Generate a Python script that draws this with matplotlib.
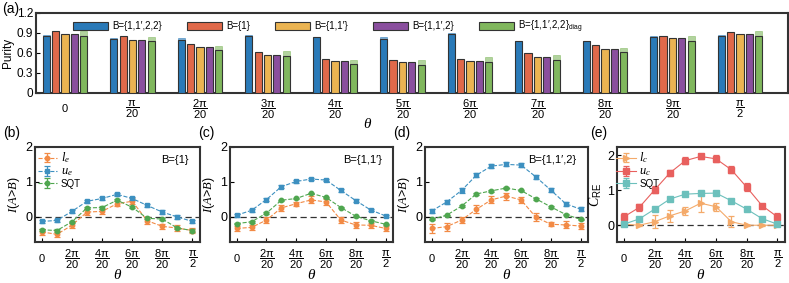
import matplotlib
matplotlib.use("Agg")
import matplotlib.pyplot as plt
import numpy as np

plt.rcParams["font.family"] = ["Liberation Sans", "DejaVu Sans"]
plt.rcParams["mathtext.fontset"] = "custom"
plt.rcParams["mathtext.rm"] = "Liberation Sans"
plt.rcParams["mathtext.sf"] = "Liberation Sans"
plt.rcParams["mathtext.it"] = "Liberation Serif:italic"
plt.rcParams["axes.edgecolor"] = "#333333"

# ---- panel (a): purity bars ----
bar_labels = ["B={1,1′,2,2}", "B={1}", "B={1,1′}", "B={1,1′,2}",
              "B={1,1′,2,2}$_{\\rm diag}$"]
bar_colors = ["#2a7ab8", "#e0694a", "#ebb452", "#8a4f9e", "#80b75d"]
theta_labels_a = ["0", r"$\dfrac{\mathrm{\pi}}{20}$", r"$\dfrac{2\mathrm{\pi}}{20}$",
                  r"$\dfrac{3\mathrm{\pi}}{20}$", r"$\dfrac{4\mathrm{\pi}}{20}$",
                  r"$\dfrac{5\mathrm{\pi}}{20}$", r"$\dfrac{6\mathrm{\pi}}{20}$",
                  r"$\dfrac{7\mathrm{\pi}}{20}$", r"$\dfrac{8\mathrm{\pi}}{20}$",
                  r"$\dfrac{9\mathrm{\pi}}{20}$", r"$\dfrac{\mathrm{\pi}}{2}$"]
pur_full = [0.86, 0.815, 0.795, 0.85, 0.835, 0.81, 0.89, 0.78, 0.78, 0.835, 0.86]
pur_full_th = [0.87, 0.82, 0.825, 0.875, 0.84, 0.84, 0.895, 0.785, 0.785, 0.86, 0.865]
pur_1 = [0.925, 0.85, 0.74, 0.61, 0.515, 0.50, 0.51, 0.60, 0.725, 0.86, 0.92]
pur_11 = [0.89, 0.80, 0.685, 0.575, 0.475, 0.46, 0.485, 0.54, 0.665, 0.82, 0.89]
pur_112 = [0.89, 0.80, 0.685, 0.575, 0.475, 0.46, 0.485, 0.54, 0.665, 0.82, 0.89]
pur_diag = [0.86, 0.775, 0.65, 0.55, 0.44, 0.425, 0.46, 0.50, 0.62, 0.785, 0.86]
pur_diag_th = [0.925, 0.835, 0.71, 0.625, 0.50, 0.50, 0.535, 0.575, 0.675, 0.86, 0.935]

# ---- panels (b)-(d): coherent information ----
k = np.arange(11)
b_le = [-0.44, -0.51, -0.25, 0.13, 0.15, 0.37, 0.44, -0.12, -0.28, -0.33, -0.40]
b_le_err = [0.08, 0.09, 0.09, 0.08, 0.08, 0.08, 0.08, 0.1, 0.08, 0.08, 0.06]
b_ue = [-0.14, -0.11, 0.15, 0.44, 0.52, 0.64, 0.52, 0.32, 0.13, -0.01, -0.14]
b_ue_err = [0.05] * 11
b_sqt = [-0.38, -0.40, -0.15, 0.25, 0.26, 0.47, 0.27, -0.05, -0.07, -0.33, -0.40]
b_sqt_err = [0.03] * 11

c_le = [-0.34, -0.31, -0.10, 0.25, 0.37, 0.48, 0.42, -0.10, -0.24, -0.25, -0.34]
c_le_err = [0.07, 0.08, 0.08, 0.08, 0.06, 0.1, 0.08, 0.08, 0.08, 0.07, 0.07]
c_ue = [0.04, 0.18, 0.49, 0.86, 1.01, 1.08, 1.05, 0.75, 0.46, 0.19, 0.02]
c_ue_err = [0.04] * 11
c_sqt = [-0.20, -0.15, 0.10, 0.47, 0.52, 0.67, 0.55, 0.26, 0.01, -0.12, -0.22]
c_sqt_err = [0.02] * 11

d_le = [-0.34, -0.29, -0.10, 0.21, 0.48, 0.59, 0.48, -0.02, -0.22, -0.24, -0.27]
d_le_err = [0.12, 0.12, 0.08, 0.12, 0.1, 0.1, 0.08, 0.12, 0.06, 0.1, 0.1]
d_ue = [0.16, 0.42, 0.75, 1.19, 1.45, 1.50, 1.48, 1.14, 0.76, 0.37, 0.21]
d_ue_err = [0.06] * 11
d_sqt = [-0.08, 0.04, 0.30, 0.65, 0.74, 0.82, 0.75, 0.51, 0.28, 0.06, -0.08]
d_sqt_err = [0.02] * 11

# ---- panel (e): C_RE ----
e_lc = [0.03, 0.0, 0.10, 0.27, 0.41, 0.63, 0.53, 0.10, 0.0, 0.0, 0.0]
e_lc_err = [0.02, 0.02, 0.18, 0.18, 0.12, 0.25, 0.12, 0.15, 0.02, 0.02, 0.02]
e_uc = [0.24, 0.51, 1.01, 1.50, 1.85, 1.97, 1.90, 1.59, 1.09, 0.56, 0.24]
e_uc_err = [0.12, 0.1, 0.1, 0.08, 0.1, 0.06, 0.1, 0.1, 0.12, 0.06, 0.1]
e_sqt = [0.03, 0.18, 0.46, 0.75, 0.89, 0.91, 0.92, 0.70, 0.46, 0.19, 0.03]
e_sqt_err = [0.02] * 11

bottom_ticks = [0, 2, 4, 6, 8, 10]
bottom_ticklabels = ["0", r"$\dfrac{2\mathrm{\pi}}{20}$", r"$\dfrac{4\mathrm{\pi}}{20}$",
                     r"$\dfrac{6\mathrm{\pi}}{20}$", r"$\dfrac{8\mathrm{\pi}}{20}$",
                     r"$\dfrac{\mathrm{\pi}}{2}$"]

fig = plt.figure(figsize=(7.89, 2.83), dpi=100)

# ---------------- (a) ----------------
ax = fig.add_axes([0.0456, 0.6714, 0.953, 0.283])
series = [pur_full, pur_1, pur_11, pur_112, pur_diag]
theory = {0: pur_full_th, 4: pur_diag_th}
w, step = 0.105, 0.14
for j, (vals, col) in enumerate(zip(series, bar_colors)):
    x = k + (j - 2) * step
    if j in theory:
        ax.bar(x, theory[j], w, color=col, alpha=0.6, edgecolor=col,
               linewidth=0.6, zorder=2)
    ax.bar(x, vals, w, color=col, edgecolor="#333333", linewidth=0.8,
           label=bar_labels[j], zorder=3)
ax.set_xlim(-0.43, 10.71)
ax.set_ylim(0, 1.2)
ax.set_yticks([0, 0.3, 0.6, 0.9, 1.2])
ax.set_yticklabels(["0", "0.3", "0.6", "0.9", "1.2"])
ax.set_xticks(k)
ax.set_xticklabels(theta_labels_a)
ax.tick_params(axis="x", length=0, pad=11.5, labelsize=8)
ax.tick_params(axis="y", direction="in", length=3, labelsize=8.5, pad=2)
for lbl in ax.get_xticklabels():
    lbl.set_va("center")
for s in ax.spines.values():
    s.set_linewidth(1.5)
ax.set_ylabel("Purity", fontsize=8.5, labelpad=2)
ax.legend(loc="upper left", bbox_to_anchor=(0.038, 1.04), ncol=5, frameon=False,
          fontsize=7, handlelength=3.6, handleheight=0.9, columnspacing=2.6,
          handletextpad=0.4)
fig.text(368 / 789, 1 - 124 / 283, r"$\theta$", fontsize=11, ha="center", va="center")

# ---------------- (b)-(e) ----------------
def style_bottom(ax, ylim, yticks):
    ax.set_xlim(-0.45, 10.5)
    ax.set_ylim(*ylim)
    ax.set_yticks(yticks)
    ax.set_xticks(bottom_ticks)
    ax.set_xticklabels(bottom_ticklabels)
    for lbl in ax.get_xticklabels():
        lbl.set_va("center")
    ax.tick_params(axis="x", direction="in", length=3, pad=12.5, labelsize=8)
    ax.tick_params(axis="y", direction="in", length=3, labelsize=9, pad=2)
    for s in ax.spines.values():
        s.set_linewidth(1.5)
    ax.axhline(0, color="#333333", ls=(0, (5, 3)), lw=0.9, zorder=1)
    ax.set_xlabel(r"$\theta$", fontsize=11, labelpad=-2.5)


def small_legend(ax, anchor):
    leg = ax.legend(loc="upper left", bbox_to_anchor=anchor, frameon=False,
                    fontsize=7, handlelength=2.0, handletextpad=0.4,
                    labelspacing=0.05, borderaxespad=0.2)
    for t in leg.get_texts()[:2]:
        t.set_fontsize(9)


def ci_panel(rect, le, le_err, ue, ue_err, sqt, sqt_err, tag, legend=False):
    ax = fig.add_axes(rect)
    kw = dict(ls="--", lw=0.8, capsize=2, elinewidth=0.9, capthick=0.9, ms=3.2)
    ax.errorbar(k, le, yerr=le_err, color="#f28a45", marker="o", label="$l_e$", **kw)
    ax.errorbar(k, ue, yerr=ue_err, color="#3d90c0", marker="s", label="$u_e$", **kw)
    ax.errorbar(k, sqt, yerr=sqt_err, color="#4fa64f", marker="o", label="SQT", **kw)
    style_bottom(ax, (-0.73, 2.0), [0, 1, 2])
    ax.set_ylabel(r"$I(A\!>\!B)$", fontsize=9, labelpad=2)
    ax.text(0.93, 0.86, tag, transform=ax.transAxes, ha="right", va="center",
            fontsize=8)
    if legend:
        small_legend(ax, (-0.02, 1.03))
    return ax


ci_panel([0.0444, 0.1449, 0.209, 0.3357], b_le, b_le_err, b_ue, b_ue_err,
         b_sqt, b_sqt_err, "B={1}", legend=True)
ci_panel([0.2915, 0.1449, 0.2066, 0.3357], c_le, c_le_err, c_ue, c_ue_err,
         c_sqt, c_sqt_err, "B={1,1′}")
ci_panel([0.5387, 0.1449, 0.2066, 0.3357], d_le, d_le_err, d_ue, d_ue_err,
         d_sqt, d_sqt_err, "B={1,1′,2}")

ax = fig.add_axes([0.782, 0.1449, 0.213, 0.3357])
kw = dict(ls="-", lw=0.8, capsize=2, elinewidth=0.9, capthick=0.9)
ax.errorbar(k, e_lc, yerr=e_lc_err, color="#f4aa6a", marker=">", ms=4.5,
            label="$l_c$", **kw)
ax.errorbar(k, e_uc, yerr=e_uc_err, color="#e8605e", marker="s", ms=4,
            label="$u_c$", **kw)
ax.errorbar(k, e_sqt, yerr=e_sqt_err, color="#6cc0bc", marker="s", ms=5,
            label="SQT", **kw)
style_bottom(ax, (-0.48, 2.24), [0, 1, 2])
ax.set_ylabel(r"$C_{\mathrm{RE}}$", fontsize=10, labelpad=2)
small_legend(ax, (-0.04, 1.03))

# panel tags
for tag, x, y in [("(a)", 2, 9), ("(b)", 3, 133), ("(c)", 198, 133),
                  ("(d)", 393, 133), ("(e)", 590, 133)]:
    fig.text(x / 789, 1 - y / 283, tag, fontsize=10, ha="left", va="center")

fig.savefig("out.png", dpi=100)
plt.close(fig)
